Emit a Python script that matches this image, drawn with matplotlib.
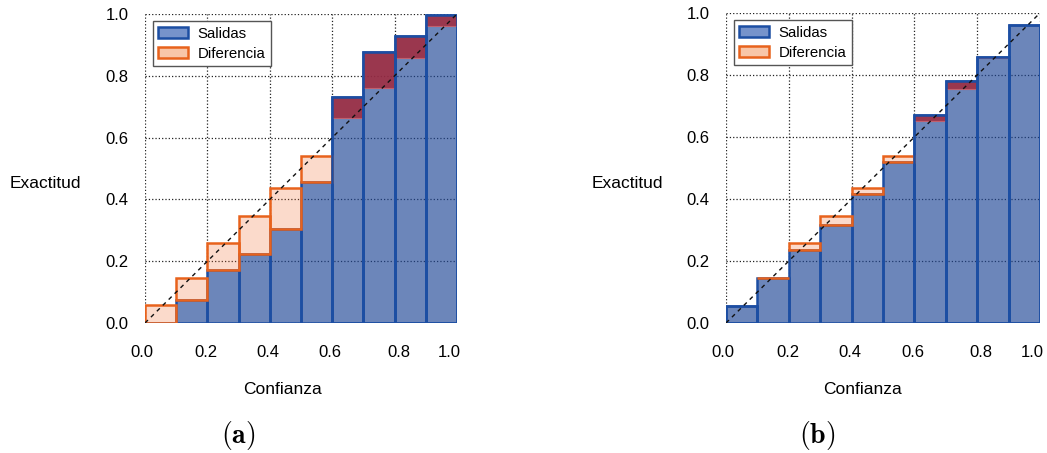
import numpy as np
import matplotlib.pyplot as plt
import matplotlib.transforms as mtransforms
from matplotlib.patches import Patch

plt.rcParams['font.family'] = ['Liberation Sans', 'DejaVu Sans']
plt.rcParams['mathtext.fontset'] = 'cm'

# bin edges (10 bins over [0, 1])
bin_lo = np.arange(10) / 10

# (a) accuracy and mean confidence per bin
acc_a = [0.0, 0.076, 0.173, 0.223, 0.305, 0.457, 0.730, 0.876, 0.930, 0.997]
conf_a = [0.057, 0.147, 0.259, 0.346, 0.437, 0.541, 0.662, 0.759, 0.857, 0.961]

# (b) accuracy and mean confidence per bin
acc_b = [0.055, 0.144, 0.235, 0.316, 0.415, 0.519, 0.672, 0.781, 0.858, 0.962]
conf_b = [0.055, 0.145, 0.257, 0.345, 0.437, 0.540, 0.650, 0.755, 0.856, 0.961]

ticks = [0.0, 0.2, 0.4, 0.6, 0.8, 1.0]
tick_labels = ['0.0', '0.2', '0.4', '0.6', '0.8', '1.0']
# horizontal nudges (px) of the x tick labels
label_nudge = [-3, -1, -2, -2, 4, -8]

BLUE_FILL = (30 / 255, 70 / 255, 150 / 255, 0.65)
BLUE_EDGE = '#1c4ea3'
PEACH_FILL = (240 / 255, 110 / 255, 50 / 255, 0.25)
ORANGE_EDGE = '#e8621c'
RED_FILL = (165 / 255, 38 / 255, 55 / 255, 0.82)


def reliability(fig, ax, acc, conf):
    acc = np.asarray(acc)
    conf = np.asarray(conf)
    ax.bar(bin_lo, acc, width=0.1, align='edge', color=BLUE_FILL,
           edgecolor=BLUE_EDGE, linewidth=1.8, zorder=2)

    under = conf > acc
    over = ~under
    # overconfident bins: gap above the accuracy bar
    ax.bar(bin_lo[under], (conf - acc)[under], bottom=acc[under], width=0.1,
           align='edge', color=PEACH_FILL, edgecolor=ORANGE_EDGE,
           linewidth=1.8, zorder=3)
    # underconfident bins: gap inside the accuracy bar
    ax.bar(bin_lo[over], (acc - conf)[over], bottom=conf[over], width=0.1,
           align='edge', color=RED_FILL, edgecolor='#c0606e',
           linewidth=0.8, zorder=3)
    ax.bar(bin_lo[over], acc[over], width=0.1, align='edge', fill=False,
           edgecolor=BLUE_EDGE, linewidth=1.8, zorder=4)

    ax.plot([0, 1], [0, 1], color='#111111', linewidth=1.0,
            dashes=(3, 3), zorder=5)

    ax.set_xlim(0, 1)
    ax.set_ylim(0, 1)
    ax.set_xticks(ticks)
    ax.set_yticks(ticks)
    ax.set_xticklabels(tick_labels)
    ax.set_yticklabels(tick_labels)
    ax.tick_params(axis='x', length=0, pad=16, labelsize=12)
    ax.tick_params(axis='y', length=0, pad=12, labelsize=12)
    for lab, dx in zip(ax.get_xticklabels(), label_nudge):
        shift = mtransforms.ScaledTranslation(dx / 100, 0, fig.dpi_scale_trans)
        lab.set_transform(lab.get_transform() + shift)
    for s in ax.spines.values():
        s.set_visible(False)
    ax.grid(True, linestyle=':', color='#222222', linewidth=0.9, zorder=0)
    ax.set_axisbelow(True)

    handles = [
        Patch(facecolor='#7693cb', edgecolor=BLUE_EDGE, linewidth=1.8,
              label='Salidas'),
        Patch(facecolor='#f8c6a8', edgecolor=ORANGE_EDGE, linewidth=1.8,
              label='Diferencia'),
    ]
    leg = ax.legend(handles=handles, loc='upper left', fontsize=10.8,
                    fancybox=False, framealpha=1, edgecolor='#555555',
                    borderaxespad=0.5, borderpad=0.35, handlelength=2.0,
                    handleheight=0.72, handletextpad=0.65, labelspacing=0.42)
    leg.get_frame().set_linewidth(1.0)
    leg.set_zorder(6)


W, H = 1047, 453
fig = plt.figure(figsize=(W / 100, H / 100), dpi=100)

ax_a = fig.add_axes([145 / W, 1 - 323 / H, 312 / W, 309 / H])
ax_b = fig.add_axes([726 / W, 1 - 323 / H, 314 / W, 310 / H])

reliability(fig, ax_a, acc_a, conf_a)
reliability(fig, ax_b, acc_b, conf_b)

for x_ylab, x_xlab, x_cap, cap in [(10, 282, 238, '(a)'), (592, 862, 817, '(b)')]:
    fig.text(x_ylab / W, 1 - 183 / H, 'Exactitud', fontsize=12.5,
             ha='left', va='center')
    fig.text(x_xlab / W, 1 - 389 / H, 'Confianza', fontsize=12.5,
             ha='center', va='center')
    fig.text(x_cap / W, 1 - 436 / H, r'$\mathbf{' + cap + '}$', fontsize=20,
             ha='center', va='center')

fig.savefig('out.png', dpi=100)
